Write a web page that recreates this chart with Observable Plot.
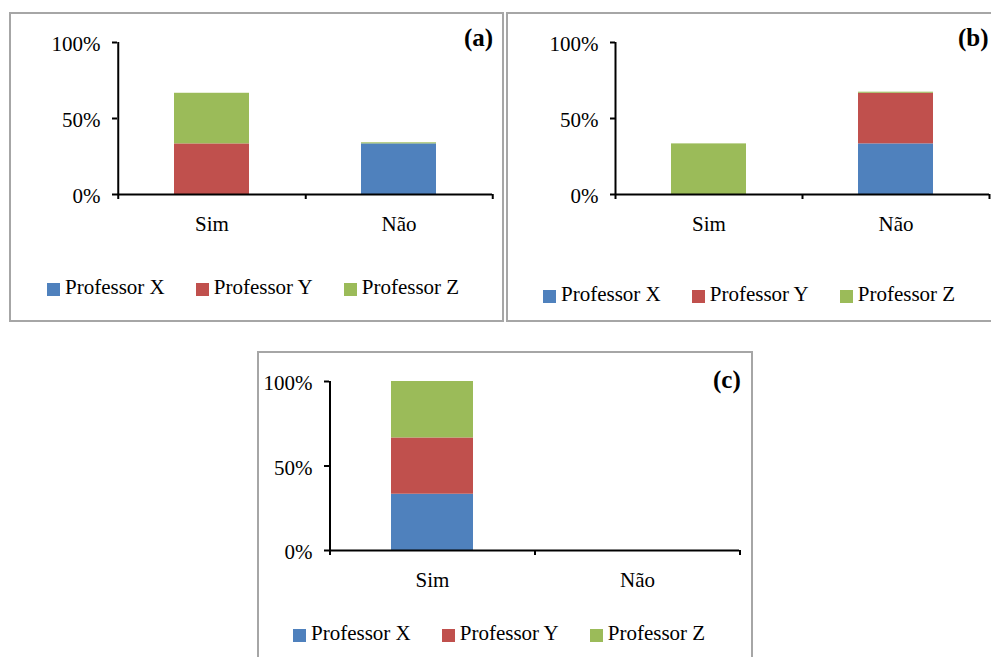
<!DOCTYPE html>
<html><head><meta charset="utf-8">
<script src="https://cdn.jsdelivr.net/npm/d3@7"></script>
<script src="https://cdn.jsdelivr.net/npm/@observablehq/plot@0.6"></script>
<style>
body{margin:0;background:#fff;}
#root{position:relative;width:991px;height:657px;overflow:hidden;font-family:"Liberation Serif","Times New Roman",serif;color:#000;}
.panel{position:absolute;box-sizing:border-box;border:2px solid #a6a6a6;background:#fff;}
.panel svg{position:absolute;left:0;top:0;}
.tag{position:absolute;font-weight:bold;font-size:25px;line-height:25px;white-space:nowrap;}
.legend{position:absolute;display:flex;align-items:center;height:21px;font-size:21px;line-height:21px;white-space:nowrap;}
.legend .item{display:flex;align-items:center;margin-right:31px;}
.legend .sw{width:13px;height:13px;margin-right:5px;position:relative;top:2px;}
</style></head>
<body><div id="root"></div>
<script>
const categories = ["Sim", "Não"];
const series = ["Professor X", "Professor Y", "Professor Z"];
const colors = ["#4F81BD", "#C0504D", "#9BBB59"];
const yTicks = [0, 0.5, 1];
const panelLabels = ["(a)", "(b)", "(c)"];

// values per series, in category order [Sim, Não]
const panelA_X = [0.000, 0.333];
const panelA_Y = [0.333, 0.000];
const panelA_Z = [0.333, 0.007];

const panelB_X = [0.000, 0.333];
const panelB_Y = [0.000, 0.333];
const panelB_Z = [0.333, 0.007];

const panelC_X = [0.333, 0.000];
const panelC_Y = [0.333, 0.000];
const panelC_Z = [0.334, 0.000];

function rowsOf(X, Y, Z) {
  const vals = [X, Y, Z];
  const rows = [];
  categories.forEach((c, ci) => series.forEach((s, si) => {
    if (vals[si][ci] > 0) rows.push({cat: c, series: s, value: vals[si][ci]});
  }));
  return rows;
}

function makePanel(rows, label, L) {
  const root = document.getElementById("root");
  const div = document.createElement("div");
  div.className = "panel";
  Object.assign(div.style, {left: L.left + "px", top: L.top + "px", width: L.w + "px", height: L.h + "px"});
  root.appendChild(div);

  const step = (L.svgW - L.mL - L.mR) / categories.length;
  const chart = Plot.plot({
    width: L.svgW, height: L.svgH,
    marginLeft: L.mL, marginRight: L.mR, marginTop: L.mT, marginBottom: L.mB,
    style: {fontFamily: "'Liberation Serif', 'Times New Roman', serif", fontSize: "21px", color: "#000", background: "transparent", overflow: "visible"},
    x: {domain: categories, paddingInner: 0.6, paddingOuter: 0.3},
    y: {domain: [0, 1]},
    color: {domain: series, range: colors},
    marks: [
      Plot.barY(rows, Plot.stackY({x: "cat", y: "value", fill: "series"})),
      Plot.ruleY([0], {stroke: "#000", strokeWidth: 2}),
      Plot.ruleX([categories[0]], {x: d => d, dx: -step / 2, y1: 1, y2: 0, insetBottom: -5, stroke: "#000", strokeWidth: 2}),
      Plot.ruleX(categories, {x: d => d, dx: step / 2, y1: 0, y2: 0, insetBottom: -5, stroke: "#000", strokeWidth: 2}),
      Plot.axisY({ticks: yTicks, tickSize: 5, tickFormat: () => "", strokeWidth: 2, stroke: "#000", label: null}),
      Plot.axisY({ticks: yTicks, tickSize: 0, tickPadding: 17, tickFormat: d3.format(".0%"), dy: 2, fill: "#000", label: null}),
      Plot.axisX({tickSize: 0, tickPadding: 22, fill: "#000", label: null})
    ]
  });
  div.appendChild(chart);

  const tag = document.createElement("div");
  tag.className = "tag";
  tag.textContent = label;
  Object.assign(tag.style, {left: L.tagL + "px", top: L.tagT + "px"});
  div.appendChild(tag);

  const lg = document.createElement("div");
  lg.className = "legend";
  Object.assign(lg.style, {left: L.lgL + "px", top: L.lgT + "px"});
  series.forEach((s, i) => {
    const it = document.createElement("div");
    it.className = "item";
    const sw = document.createElement("div");
    sw.className = "sw";
    sw.style.background = colors[i];
    const tx = document.createElement("span");
    tx.textContent = s;
    it.appendChild(sw); it.appendChild(tx);
    lg.appendChild(it);
  });
  div.appendChild(lg);
}

makePanel(rowsOf(panelA_X, panelA_Y, panelA_Z), panelLabels[0],
  {left: 9, top: 12, w: 495, h: 310, svgW: 491, svgH: 240, mL: 106, mR: 10, mT: 28, mB: 60, tagL: 453, tagT: 11, lgL: 36, lgT: 263});
makePanel(rowsOf(panelB_X, panelB_Y, panelB_Z), panelLabels[1],
  {left: 506, top: 12, w: 500, h: 310, svgW: 491, svgH: 240, mL: 107, mR: 10, mT: 28, mB: 60, tagL: 450, tagT: 11, lgL: 35, lgT: 270});
makePanel(rowsOf(panelC_X, panelC_Y, panelC_Z), panelLabels[2],
  {left: 257, top: 351, w: 496, h: 320, svgW: 492, svgH: 260, mL: 70, mR: 12, mT: 28, mB: 63, tagL: 454, tagT: 14, lgL: 34, lgT: 270});
</script>
</body></html>
